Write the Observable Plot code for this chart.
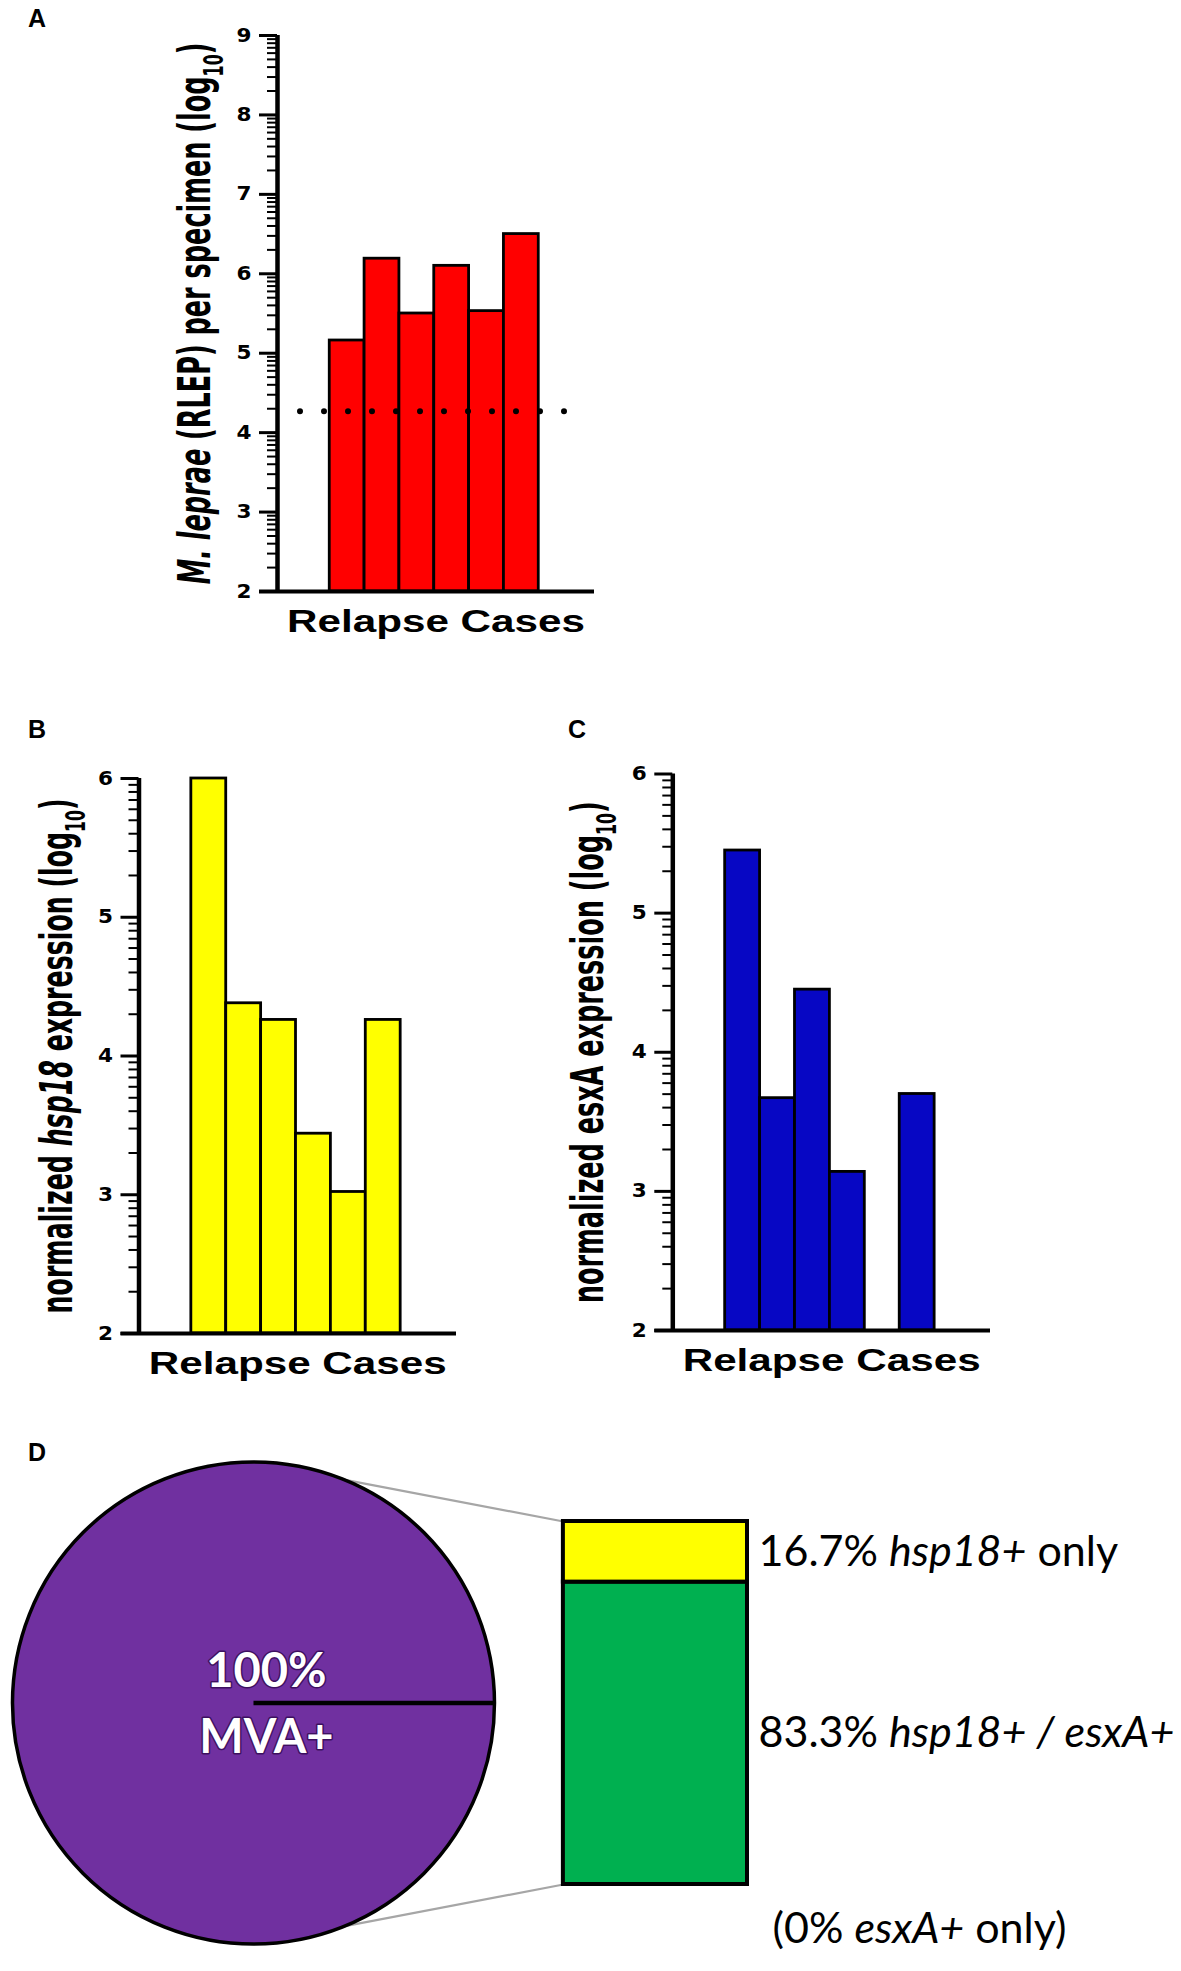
<!DOCTYPE html>
<html><head><meta charset="utf-8">
<script src="https://cdn.jsdelivr.net/npm/d3@7"></script>
<script src="https://cdn.jsdelivr.net/npm/@observablehq/plot@0.6"></script>
<style>
html,body{margin:0;padding:0;background:#fff;}
#page{position:relative;width:1181px;height:1971px;background:#fff;overflow:hidden;}
.letter{position:absolute;font-family:"Liberation Sans",Arial,sans-serif;font-weight:bold;font-size:25px;line-height:25px;color:#000;}
</style></head><body><div id="page"></div>
<script>
// ---------------- DATA ----------------
const caseIds   = [1, 2, 3, 4, 5, 6];
const rlepLog   = [5.16, 6.19, 5.50, 6.10, 5.53, 6.50];   // panel A
const hsp18Log  = [6.00, 4.38, 4.26, 3.44, 3.02, 4.26];   // panel B
const esxALog   = [5.45, 3.67, 4.45, 3.14, null, 3.70];   // panel C (case 5 not detected)
const rlepCutoff = 4.27;                                   // dotted line, panel A
const ticksA  = [2, 3, 4, 5, 6, 7, 8, 9];
const ticksBC = [2, 3, 4, 5, 6];
const xLabel  = "Relapse Cases";
const mvaPct   = [100];
const mvaLabel = ["100%", "MVA+"];
const subsetNames  = ["esxA+ only", "hsp18+ / esxA+", "hsp18+ only"];
const subsetPct    = [0, 83.3, 16.7];
const subsetColors = ["#ffffff", "#00b050", "#ffff00"];

// ---------------- HELPERS ----------------
const page = document.getElementById("page");
function minorLogTicks(lo, hi) {
  const out = [];
  for (let n = lo; n < hi; n++) for (let k = 2; k <= 9; k++) out.push(n + Math.log10(k));
  return out;
}
function place(svg, left, top) {
  svg.style.position = "absolute";
  svg.style.left = left + "px";
  svg.style.top = top + "px";
  svg.style.overflow = "visible";
  page.appendChild(svg);
}
function letter(t, left, top) {
  const d = document.createElement("div");
  d.className = "letter"; d.textContent = t;
  d.style.left = left + "px"; d.style.top = top + "px";
  page.appendChild(d);
}
// replace a plain text element by styled tspans; returns the selection
function rich(svg, plain, parts, fontPx, len) {
  const sel = d3.select(svg).selectAll("text").filter(function () { return this.textContent === plain; });
  sel.each(function () {
    const t = d3.select(this);
    t.text(null);
    let shifted = 0;
    parts.forEach(p => {
      const ts = t.append("tspan").text(p.t);
      if (p.i) ts.attr("font-style", "italic");
      if (p.sub) {
        const s = fontPx * 0.3;
        ts.attr("font-size", (fontPx * 0.62) + "px").attr("dy", s + "px");
        shifted = s;
      } else if (shifted) {
        ts.attr("dy", (-shifted) + "px");
        shifted = 0;
      }
    });
    if (len) {
      this.setAttribute("textLength", len);
      this.setAttribute("lengthAdjust", "spacingAndGlyphs");
    }
  });
  return sel;
}
// squeeze a (rotated, centred) label to a given length with a scale transform (once it is in the DOM)
function squeeze(sel, len) {
  sel.each(function () {
    this.setAttribute("text-anchor", "middle");
    const nat = this.getComputedTextLength();
    if (!nat) return;
    const k = len / nat;
    const tr = this.getAttribute("transform") || "";
    this.setAttribute("transform", tr + ` scale(${k},1)`);
  });
}

// ---------------- BAR PANELS ----------------
function barPanel(cfg) {
  const data = caseIds.map((id, i) => ({id, v: cfg.values[i]})).filter(d => d.v != null);
  const [y0, y1] = cfg.domain;
  const marks = [
    Plot.rectY(data, {x1: d => d.id - 0.5, x2: d => d.id + 0.5, y1: y0, y2: "v",
      fill: cfg.fill, stroke: "#000", strokeWidth: 2.8}),
    Plot.axisY(minorLogTicks(y0, y1), {anchor: "left", tickSize: 10, strokeWidth: 2,
      tickFormat: () => "", label: null}),
    Plot.axisY(cfg.ticks, {anchor: "left", tickSize: 18, tickPadding: 8, strokeWidth: 3,
      fontSize: 19, fontWeight: "bold", fontFamily: "'DejaVu Sans',sans-serif",
      tickFormat: d => String(d), label: null}),
    Plot.ruleX([-1], {strokeWidth: 4.5, insetBottom: -2}),
    Plot.ruleY([y0], {strokeWidth: 4, insetLeft: -18}),
    Plot.text([xLabel], {text: d => d, frameAnchor: "bottom", dy: 40, lineAnchor: "bottom",
      fontSize: 31, fontWeight: "bold"}),
    Plot.text([cfg.yLabel], {text: d => d, frameAnchor: "left", textAnchor: "middle", rotate: -90, dx: cfg.labelDx,
      fontSize: 44, fontWeight: "bold",
      fontFamily: "'Liberation Sans Narrow','DejaVu Sans Condensed','Liberation Sans',sans-serif"})
  ];
  if (cfg.cutoff != null) {
    marks.push(Plot.ruleY([cfg.cutoff], {strokeWidth: 6, strokeDasharray: "0 24",
      strokeLinecap: "round", insetLeft: 23, insetRight: 6}));
  }
  const svg = Plot.plot({
    width: cfg.width, height: cfg.height,
    marginLeft: cfg.ml, marginRight: cfg.mr, marginTop: cfg.mt, marginBottom: cfg.mb,
    x: {domain: [-1, 8.1], axis: null},
    y: {domain: [y0, y1], axis: null},
    style: {fontFamily: "'Liberation Sans',Arial,sans-serif", color: "#000", background: "transparent", overflow: "visible"},
    marks
  });
  rich(svg, xLabel, [{t: xLabel}], 31, 298);
  const ylab = rich(svg, cfg.yLabel, cfg.labelParts, 44, null);
  // widen the tick digits like the original's extended bold numerals
  d3.select(svg).selectAll("text").filter(function () {
    return /^\d$/.test(this.textContent);
  }).attr("textLength", 15).attr("lengthAdjust", "spacingAndGlyphs");
  place(svg, cfg.left, cfg.top);
  squeeze(ylab, cfg.labelLen);
}

barPanel({
  values: rlepLog, domain: [2, 9], ticks: ticksA, fill: "#ff0000", cutoff: rlepCutoff,
  left: 0, top: 0, width: 620, height: 660, ml: 277, mr: 26, mt: 35, mb: 69,
  yLabel: "M. leprae (RLEP) per specimen (log10)",
  labelParts: [{t: "M. leprae", i: true}, {t: " (RLEP) per specimen (log"}, {t: "10", sub: true}, {t: ")"}],
  labelDx: -82, labelLen: 542
});
barPanel({
  values: hsp18Log, domain: [2, 6], ticks: ticksBC, fill: "#ffff00",
  left: 0, top: 680, width: 520, height: 720, ml: 138.5, mr: 64, mt: 98, mb: 67,
  yLabel: "normalized hsp18 expression (log10)",
  labelParts: [{t: "normalized "}, {t: "hsp18", i: true}, {t: " expression (log"}, {t: "10", sub: true}, {t: ")"}],
  labelDx: -81.5, labelLen: 515
});
barPanel({
  values: esxALog, domain: [2, 6], ticks: ticksBC, fill: "#0707c4",
  left: 520, top: 680, width: 661, height: 720, ml: 152.3, mr: 191, mt: 93.5, mb: 70,
  yLabel: "normalized esxA expression (log10)",
  labelParts: [{t: "normalized esxA expression (log"}, {t: "10", sub: true}, {t: ")"}],
  labelDx: -84, labelLen: 502
});

// ---------------- PANEL D ----------------
(function () {
  const W = 1181, H = 531, ml = 12, mr = 434, mt = 81, mb = 87;
  const R = 241;                       // pie radius in px (= one x unit)
  const barX0 = 1.286, barX1 = 2.05;   // stacked bar extent in x units
  const pxPerPct = (H - mt - mb) / 100;
  const yC = 50;                       // pie centre, aligned with bar middle
  const ang = 68 * Math.PI / 180;
  const tY = Math.sin(ang) * R / pxPerPct;
  const segs = subsetNames.map((name, i) => ({name, pct: subsetPct[i], color: subsetColors[i]}));
  const pie = mvaPct.map(p => ({pct: p}));
  const segLabel = d => `${d.pct}% ${d.name}`;
  const zeroLabel = d => `(${d.pct}% ${d.name})`;
  const svg = Plot.plot({
    width: W, height: H, marginLeft: ml, marginRight: mr, marginTop: mt, marginBottom: mb,
    x: {domain: [-1, barX1], axis: null},
    y: {domain: [0, 100], axis: null},
    style: {fontFamily: "Lato,'Open Sans',sans-serif", color: "#000", background: "transparent", overflow: "visible"},
    marks: [
      Plot.link([{a: Math.cos(ang), b: yC + tY, c: barX0, d: 100}, {a: Math.cos(ang), b: yC - tY, c: barX0, d: 0}],
        {x1: "a", y1: "b", x2: "c", y2: "d", stroke: "#a6a6a6", strokeWidth: 2.2}),
      Plot.dot(pie, {x: () => 0, y: () => yC, r: R, fill: "#7030a0", stroke: "#000", strokeWidth: 3.5}),
      Plot.link(pie, {x1: () => 0, y1: () => yC, x2: () => 1, y2: () => yC, stroke: "#000", strokeWidth: 4.5}),
      Plot.text([mvaLabel[0]], {text: d => d, x: () => 0, y: () => yC, dx: 13, dy: -16.5, lineAnchor: "bottom",
        fontSize: 47, fontWeight: "bold", fill: "#fff", stroke: "#3d1060", strokeWidth: 3}),
      Plot.text([mvaLabel[1]], {text: d => d, x: () => 0, y: () => yC, dx: 13, dy: 49.5, lineAnchor: "bottom",
        fontSize: 47, fontWeight: "bold", fill: "#fff", stroke: "#3d1060", strokeWidth: 3}),
      Plot.rectY(segs, Plot.stackY({x1: () => barX0, x2: () => barX1, y: "pct",
        fill: "color", stroke: "#000", strokeWidth: 4, filter: d => d.pct > 0})),
      Plot.text(segs, Plot.stackY({x: () => barX1, y: "pct", text: segLabel, textAnchor: "start", dx: 11,
        fontSize: 43, filter: d => d.pct > 0})),
      Plot.text(segs.filter(d => d.pct === 0), {x: () => barX1, y: () => 0, text: zeroLabel, textAnchor: "start",
        dx: 25, dy: 58, lineAnchor: "bottom", fontSize: 43})
    ]
  });
  rich(svg, "16.7% hsp18+ only", [{t: "16.7% "}, {t: "hsp18+", i: true}, {t: " only"}], 43);
  rich(svg, "83.3% hsp18+ / esxA+", [{t: "83.3% "}, {t: "hsp18+ / esxA+", i: true}], 43);
  rich(svg, "(0% esxA+ only)", [{t: "(0% "}, {t: "esxA+", i: true}, {t: " only)"}], 43);
  place(svg, 0, 1440);
})();

letter("A", 28, 6);
letter("B", 28, 717);
letter("C", 568, 717);
letter("D", 28, 1440);
</script></body></html>
